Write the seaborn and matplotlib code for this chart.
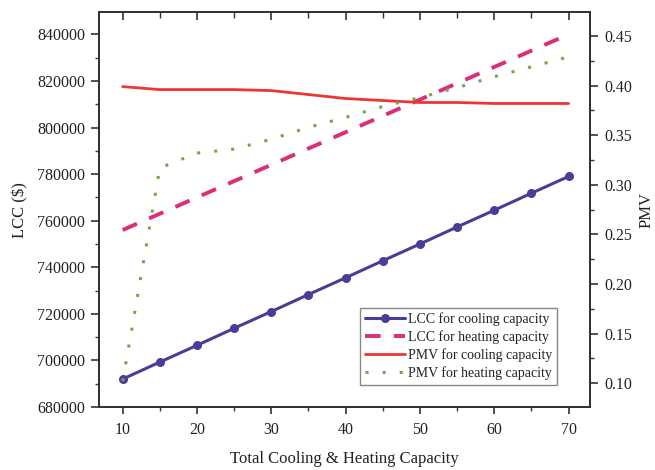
import numpy as np
import pandas as pd
import matplotlib
matplotlib.use("Agg")
import matplotlib.pyplot as plt
from matplotlib.ticker import MultipleLocator
import seaborn as sns

# Total cooling & heating capacity
capacity = [10, 15, 20, 25, 30, 35, 40, 45, 50, 55, 60, 65, 70]

# Life-cycle cost ($)
lcc_cooling = [692000, 699300, 706500, 713800, 721000, 728300, 735500,
               742800, 750000, 757300, 764500, 771800, 779000]
lcc_heating = [756000, 763000, 770000, 777000, 784000, 791000, 798000,
               805000, 812000, 819000, 826000, 833000, 840000]

# Predicted mean vote
pmv_cooling = [0.399, 0.396, 0.396, 0.396, 0.395, 0.391, 0.387,
               0.385, 0.383, 0.383, 0.382, 0.382, 0.382]
pmv_heating = [0.102, 0.317, 0.332, 0.336, 0.346, 0.358, 0.368,
               0.379, 0.388, 0.398, 0.409, 0.419, 0.429]

df = pd.DataFrame({
    "capacity": capacity,
    "lcc_cooling": lcc_cooling,
    "lcc_heating": lcc_heating,
    "pmv_cooling": pmv_cooling,
    "pmv_heating": pmv_heating,
})

sns.set_style("ticks")
plt.rcParams["font.family"] = ["Liberation Serif", "DejaVu Serif"]

spine_col = "#333333"
text_col = "#222222"

fig = plt.figure(figsize=(6.55, 4.7), dpi=100)
ax = fig.add_axes([0.151, 0.134, 0.750, 0.840])
ax2 = ax.twinx()

sns.lineplot(data=df, x="capacity", y="lcc_cooling", ax=ax, color="#4B3C96",
             lw=2.2, marker="o", markersize=6.5, markeredgewidth=0,
             label="LCC for cooling capacity", legend=False, zorder=3)
sns.lineplot(data=df, x="capacity", y="lcc_heating", ax=ax, color="#DC2E78",
             lw=2.8, linestyle=(0, (4.0, 3.4)),
             label="LCC for heating capacity", legend=False, zorder=3)
sns.lineplot(data=df, x="capacity", y="pmv_cooling", ax=ax2, color="#EE3535",
             lw=2.0, label="PMV for cooling capacity", legend=False, zorder=2)
sns.lineplot(data=df, x="capacity", y="pmv_heating", ax=ax2, color="#6FA84E",
             lw=2.2, linestyle=(0, (1.0, 4.6)),
             label="PMV for heating capacity", legend=False, zorder=2)

ax.set_xlim(6.8, 72.9)
ax.set_ylim(680000, 849500)
ax2.set_ylim(0.076, 0.474)

ax.xaxis.set_major_locator(MultipleLocator(10))
ax.xaxis.set_minor_locator(MultipleLocator(5))
ax.yaxis.set_major_locator(MultipleLocator(20000))
ax.yaxis.set_minor_locator(MultipleLocator(10000))
ax2.yaxis.set_major_locator(MultipleLocator(0.05))
ax2.yaxis.set_minor_locator(MultipleLocator(0.025))
ax2.yaxis.set_major_formatter(matplotlib.ticker.FormatStrFormatter("%.2f"))

for a in (ax, ax2):
    for s in a.spines.values():
        s.set_visible(True)
        s.set_color(spine_col)
        s.set_linewidth(1.4)

ax.tick_params(axis="y", which="major", direction="out", length=6, width=1.2,
               color=spine_col, labelsize=11.5, labelcolor=text_col, pad=4)
ax.tick_params(axis="x", which="major", direction="out", length=5, width=1.2,
               color=spine_col, labelsize=11.5, labelcolor=text_col, pad=6)
ax.tick_params(axis="both", which="minor", direction="out", length=3, width=1.0,
               color=spine_col)
ax2.tick_params(axis="y", which="major", direction="out", length=6, width=1.2,
                color=spine_col, labelsize=11.5, labelcolor=text_col, pad=4)
ax2.tick_params(axis="y", which="minor", direction="out", length=3, width=1.0,
                color=spine_col)

# inward ticks along the top edge
top = ax.secondary_xaxis("top")
top.xaxis.set_major_locator(MultipleLocator(10))
top.xaxis.set_minor_locator(MultipleLocator(5))
top.tick_params(which="major", direction="in", length=6, width=1.2,
                color=spine_col, labeltop=False)
top.tick_params(which="minor", direction="in", length=4, width=1.0,
                color=spine_col)
top.spines["top"].set_visible(False)

ax.set_xlabel("Total Cooling & Heating Capacity", fontsize=12, color=text_col,
              labelpad=9)
ax.set_ylabel("LCC ($)", fontsize=12, color=text_col, labelpad=6)
ax2.set_ylabel("PMV", fontsize=12, color=text_col, labelpad=5)

h1, l1 = ax.get_legend_handles_labels()
h2, l2 = ax2.get_legend_handles_labels()
leg = ax2.legend(h1 + h2, l1 + l2, loc="lower right",
                 bbox_to_anchor=(0.933, 0.056), borderaxespad=0,
                 fontsize=10, frameon=True, fancybox=False, framealpha=1,
                 edgecolor="#888888", handlelength=2.9, handletextpad=0.2,
                 labelspacing=0.3, borderpad=0.35)
leg.get_frame().set_linewidth(1.0)
for t in leg.get_texts():
    t.set_color(text_col)

fig.savefig("out.png", dpi=100)
